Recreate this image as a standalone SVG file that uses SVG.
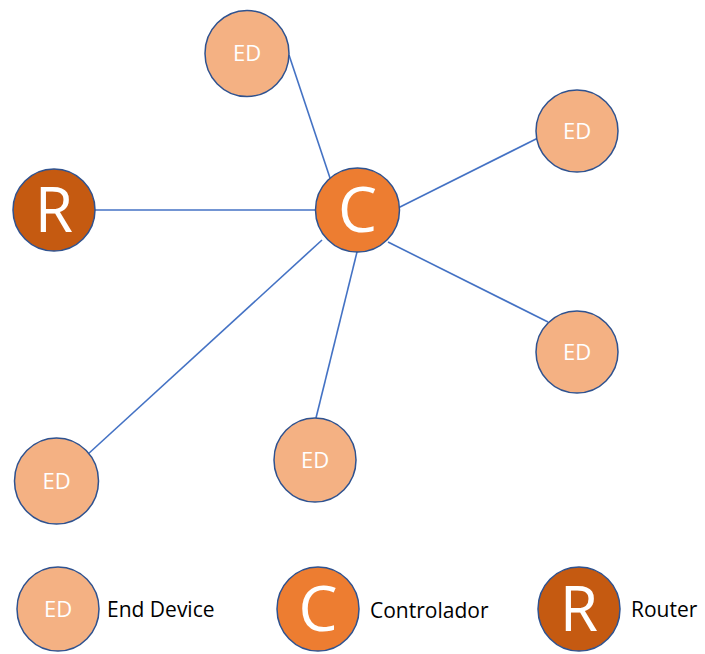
<svg xmlns="http://www.w3.org/2000/svg" width="705" height="654" viewBox="0 0 705 654">
<style>
.n{stroke:#2F528F;stroke-width:1.5}
.ed{fill:#F4B183}
.c{fill:#ED7D31}
.r{fill:#C55A11}
.lbl{fill:#fff;font-family:"Open Sans","Liberation Sans",sans-serif;text-anchor:middle}
.s{font-size:22px}
.b{font-size:62px}
.leg{fill:#000;font-family:"Open Sans","Liberation Sans",sans-serif;font-size:21px}
#edges line{stroke:#4472C4;stroke-width:1.6}
</style>
<rect width="705" height="654" fill="#fff"/>
<g id="edges">
<line x1="95" y1="210" x2="316" y2="210"/>
<line x1="289" y1="55" x2="330" y2="178"/>
<line x1="398" y1="208" x2="540" y2="137"/>
<line x1="388" y1="242" x2="548" y2="322"/>
<line x1="357" y1="252" x2="316" y2="418"/>
<line x1="322" y1="240" x2="87" y2="455"/>
</g>
<g id="node-R"><circle class="n r" cx="54" cy="210" r="41"/><text class="lbl b" x="54" y="232">R</text></g>
<g id="node-C"><circle class="n c" cx="357.5" cy="210" r="42"/><text class="lbl b" x="357.5" y="232">C</text></g>
<g id="node-ED1"><ellipse class="n ed" cx="247" cy="53.5" rx="42" ry="43"/><text class="lbl s" x="247" y="61">ED</text></g>
<g id="node-ED2"><circle class="n ed" cx="577" cy="131" r="41"/><text class="lbl s" x="577" y="139">ED</text></g>
<g id="node-ED3"><circle class="n ed" cx="577" cy="352" r="41"/><text class="lbl s" x="577" y="360">ED</text></g>
<g id="node-ED4"><ellipse class="n ed" cx="315" cy="460" rx="41" ry="42"/><text class="lbl s" x="315" y="468">ED</text></g>
<g id="node-ED5"><ellipse class="n ed" cx="56.5" cy="481" rx="42" ry="43"/><text class="lbl s" x="56.5" y="489">ED</text></g>
<g id="legend-ED"><ellipse class="n ed" cx="58" cy="609" rx="41" ry="42"/><text class="lbl s" x="58" y="617">ED</text><text class="leg" x="107" y="617">End Device</text></g>
<g id="legend-C"><ellipse class="n c" cx="318" cy="609" rx="41" ry="42"/><text class="lbl b" x="318" y="631">C</text><text class="leg" x="370" y="618">Controlador</text></g>
<g id="legend-R"><ellipse class="n r" cx="579" cy="609" rx="41" ry="42"/><text class="lbl b" x="579" y="631">R</text><text class="leg" x="631" y="617">Router</text></g>
</svg>
